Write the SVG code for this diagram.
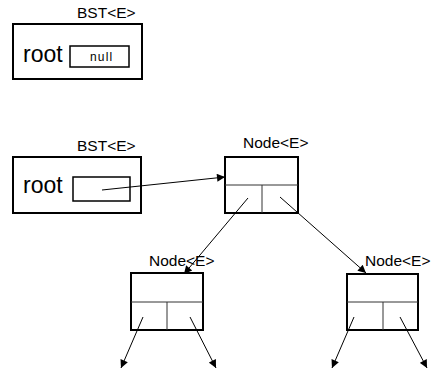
<svg xmlns="http://www.w3.org/2000/svg" width="431" height="371" viewBox="0 0 431 371">
<style>
.box{fill:#fff;stroke:#000;stroke-width:2}
.inner{fill:#fff;stroke:#000;stroke-width:1.5}
.div{stroke:#333;stroke-width:1;fill:none}
.lbl{font-family:"Liberation Sans",Arial,sans-serif;font-size:15.5px;fill:#000}
.root{font-family:"Liberation Sans",Arial,sans-serif;font-size:23px;fill:#000}
.null{font-family:"Liberation Sans",Arial,sans-serif;font-size:12px;letter-spacing:1.2px;fill:#000}
.edge{stroke:#000;stroke-width:1;fill:none;marker-end:url(#ah)}
</style>
<defs>
<marker id="ah" viewBox="0 0 10 10" refX="10" refY="5" markerWidth="10" markerHeight="8" markerUnits="userSpaceOnUse" orient="auto">
<path d="M0,0 L10,5 L0,10 z" fill="#000"/>
</marker>
</defs>
<g id="bst1">
<text class="lbl" x="77" y="18">BST&lt;E&gt;</text>
<rect class="box" x="13" y="24" width="129" height="55"/>
<text class="root" x="23" y="62">root</text>
<rect class="inner" x="70" y="46" width="59" height="21"/>
<text class="null" x="90" y="61">null</text>
</g>
<g id="bst2">
<text class="lbl" x="77" y="151">BST&lt;E&gt;</text>
<rect class="box" x="13" y="157" width="128" height="56"/>
<text class="root" x="23" y="193">root</text>
<rect class="inner" x="73" y="177" width="57" height="24"/>
</g>
<g id="node-root">
<text class="lbl" x="243" y="148">Node&lt;E&gt;</text>
<rect class="box" x="225" y="157" width="73" height="56"/>
<line class="div" x1="225" y1="185" x2="298" y2="185"/>
<line class="div" x1="262" y1="185" x2="262" y2="213"/>
</g>
<g id="node-left">
<text class="lbl" x="149" y="266">Node&lt;E&gt;</text>
<rect class="box" x="131" y="273" width="72" height="57"/>
<line class="div" x1="131" y1="302" x2="203" y2="302"/>
<line class="div" x1="167" y1="302" x2="167" y2="330"/>
</g>
<g id="node-right">
<text class="lbl" x="365" y="266">Node&lt;E&gt;</text>
<rect class="box" x="347" y="274" width="71" height="56"/>
<line class="div" x1="347" y1="302" x2="418" y2="302"/>
<line class="div" x1="383" y1="302" x2="383" y2="330"/>
</g>
<g id="connectors">
<line class="edge" x1="102" y1="190" x2="225" y2="177"/>
<line class="edge" x1="248" y1="198" x2="184" y2="274"/>
<line class="edge" x1="280" y1="197" x2="366" y2="273"/>
<line class="edge" x1="143" y1="317" x2="121" y2="368"/>
<line class="edge" x1="190" y1="317" x2="216" y2="368"/>
<line class="edge" x1="354" y1="317" x2="332" y2="368"/>
<line class="edge" x1="400" y1="317" x2="427" y2="368"/>
</g>
</svg>
